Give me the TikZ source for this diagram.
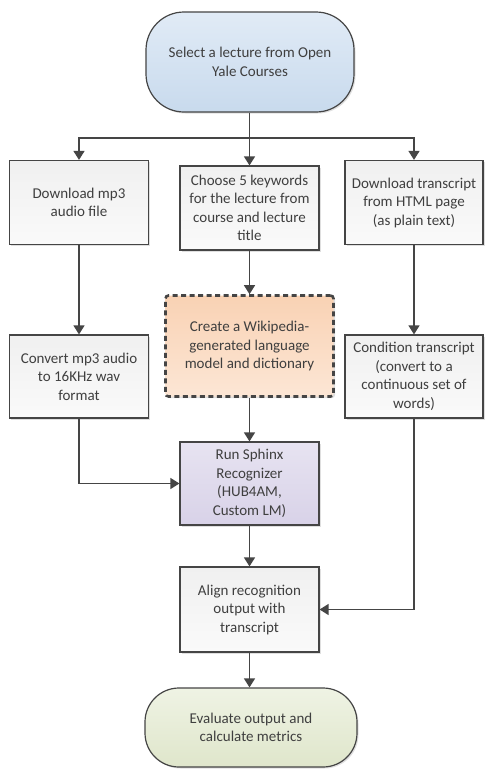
\documentclass[tikz,border=0pt]{standalone}
\usepackage{fontspec}
\setmainfont{Carlito}
\usetikzlibrary{arrows.meta,shadows}
\definecolor{txt}{HTML}{3F3F3F}
\definecolor{ln}{HTML}{454545}
\definecolor{blueT}{HTML}{E1EBF6}
\definecolor{blueB}{HTML}{C8DAED}
\definecolor{greenT}{HTML}{EFF3E4}
\definecolor{greenB}{HTML}{DFE6CB}
\definecolor{lavT}{HTML}{E7E3F1}
\definecolor{lavB}{HTML}{D8D2E8}
\definecolor{orT}{HTML}{F9D2B4}
\definecolor{orB}{HTML}{FCE6D5}
\definecolor{grT}{HTML}{F0F0F0}
\definecolor{grB}{HTML}{FAFAFA}
\begin{document}
\begin{tikzpicture}[x=1pt,y=-1pt,
  base/.style={draw=ln, line width=1.2pt, align=center, text=txt,
    font=\fontsize{15}{18.5}\selectfont, inner sep=0pt,
    drop shadow={shadow xshift=1.5pt, shadow yshift=-1.5pt, opacity=0.25}},
  procbox/.style={base, rectangle, top color=grT, bottom color=grB,
    minimum width=139pt, minimum height=84pt},
  termbox/.style={base, rectangle, rounded corners=38pt},
  arr/.style={draw=ln, line width=1.3pt, -{Triangle[length=9pt,width=11pt]}}
]
\useasboundingbox (0,0) rectangle (485,777);
\fill[white] (0,0) rectangle (485,777);

\node[termbox, top color=blueT, bottom color=blueB, minimum width=208pt, minimum height=100pt]
  (top) at (250,62) {Select a lecture from Open\\Yale Courses};

\node[procbox] (dl) at (79,202.5) {Download mp3\\audio file};
\node[procbox] (kw) at (249.5,208) {Choose 5 keywords\\for the lecture from\\course and lecture\\title};
\node[procbox, minimum width=138pt] (dt) at (414,202.5) {Download transcript\\from HTML page\\(as plain text)};

\node[base, rectangle, rounded corners=3pt, top color=orT, bottom color=orB,
  line width=2.6pt, dash pattern=on 5pt off 3.5pt,
  minimum width=168pt, minimum height=101pt] (wiki) at (249.5,346)
  {Create a Wikipedia-\\generated language\\model and dictionary};

\node[procbox, minimum height=83pt] (conv) at (79,376.5) {Convert mp3 audio\\to 16KHz wav\\format};
\node[procbox, minimum width=138pt, minimum height=83pt] (cond) at (414,376.5) {Condition transcript\\(convert to a\\continuous set of\\words)};

\node[procbox, top color=lavT, bottom color=lavB, minimum height=83pt] (sphinx) at (249.5,483.5)
  {Run Sphinx\\Recognizer\\(HUB4AM,\\Custom LM)};

\node[procbox, minimum height=85pt] (align) at (249.5,609.5) {Align recognition\\output with\\transcript};

\node[termbox, rounded corners=34pt, top color=greenT, bottom color=greenB, minimum width=212pt, minimum height=79pt]
  (eval) at (251,727.5) {Evaluate output and\\calculate metrics};

\coordinate (j) at (249.5,138);
\draw[arr] (top.south -| kw.north) -- (kw.north);
\draw[arr] (j) -| (dl.north);
\draw[arr] (j) -| (dt.north);
\draw[arr] (dl) -- (conv);
\draw[arr] (kw) -- (wiki);
\draw[arr] (dt) -- (cond);
\draw[arr] (wiki) -- (sphinx);
\draw[arr] (conv.south) |- (sphinx.west);
\draw[arr] (sphinx) -- (align);
\draw[arr] (cond.south) |- (align.east);
\draw[arr] (align.south) -- (align.south |- eval.north);
\end{tikzpicture}
\end{document}
